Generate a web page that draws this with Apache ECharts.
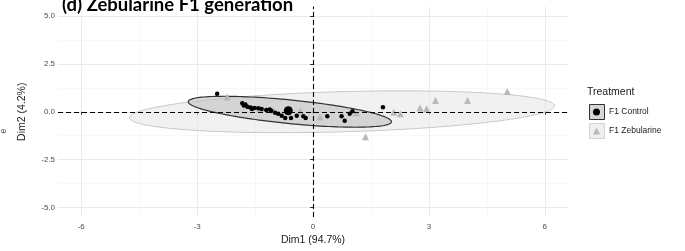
<!DOCTYPE html>
<html>
<head>
<meta charset="utf-8">
<script src="https://cdn.jsdelivr.net/npm/echarts@6/dist/echarts.min.js"></script>
<style>
  html, body { margin: 0; padding: 0; background: #fff; }
  #chart { width: 685px; height: 251px; }
</style>
</head>
<body>
<div id="chart"></div>
<script>
const xTicks = [-6, -3, 0, 3, 6]
const xMinor = [-4.5, -1.5, 1.5, 4.5]
const yTicks = [-5, -2.5, 0, 2.5, 5]
const yMinor = [-3.75, -1.25, 1.25, 3.75]

const controlPoints = [
  [-2.48, 0.94], [-1.83, 0.44], [-1.79, 0.33], [-1.75, 0.38], [-1.70, 0.26],
  [-1.62, 0.22], [-1.58, 0.15], [-1.52, 0.20], [-1.42, 0.18], [-1.33, 0.14],
  [-1.21, 0.09], [-1.12, 0.12], [-1.08, 0.05], [-0.98, -0.05], [-0.90, -0.10],
  [-0.81, -0.21], [-0.72, -0.33], [-0.57, -0.33], [-0.42, -0.21], [-0.25, -0.24],
  [-0.19, -0.33], [0.37, -0.23], [0.74, -0.24], [0.82, -0.47], [0.95, -0.10],
  [1.02, 0.03], [1.81, 0.24]
]
const controlMean = [[-0.64, 0.05]]
const zebularinePoints = [
  [-2.22, 0.77], [-1.36, 0.16], [-1.02, 0.07], [-0.33, 0.05], [0.18, -0.28],
  [1.12, -0.05], [1.36, -1.30], [2.09, -0.02], [2.26, -0.10], [2.77, 0.19],
  [2.94, 0.16], [3.17, 0.59], [4.00, 0.59], [5.03, 1.06]
]
// ellipse: centre x, centre y, half-axis a (x, y), half-axis b (x, y)
const controlEllipse = [-0.6, 0, 2.63, -0.52, 0, 0.62]
const zebularineEllipse = [0.75, 0, 5.5, 0.31, 0, 1.05]

const axisFont = 'Liberation Sans'

function ellipseSeries (name, params, fill, stroke, lw, z) {
  return {
    type: 'custom',
    name,
    z,
    silent: true,
    data: [params],
    encode: { x: 0, y: 1 },
    renderItem: (p, api) => {
      const [cx, cy, ax, ay, bx, by] = params
      const pts = []
      for (let i = 0; i < 144; i++) {
        const t = i / 144 * Math.PI * 2
        pts.push(api.coord([
          cx + ax * Math.cos(t) + bx * Math.sin(t),
          cy + ay * Math.cos(t) + by * Math.sin(t)
        ]))
      }
      return {
        type: 'polygon',
        shape: { points: pts },
        style: { fill, stroke, lineWidth: lw }
      }
    }
  }
}

const chart = echarts.init(document.getElementById('chart'))
chart.setOption({
  animation: false,
  grid: { left: 58, right: 117, top: 6.5, bottom: 32 },
  xAxis: [
    {
      type: 'value',
      min: -6.6,
      max: 6.6,
      axisLine: { show: false },
      axisTick: { show: true, length: 3, customValues: xTicks, lineStyle: { color: '#333' } },
      axisLabel: { customValues: xTicks, color: '#4d4d4d', fontSize: 8, margin: 6, fontFamily: axisFont },
      splitLine: { show: true, lineStyle: { color: '#e6e6e6', width: 0.8 } },
      name: 'Dim1 (94.7%)',
      nameLocation: 'middle',
      nameGap: 18,
      nameMoveOverlap: false,
      nameTextStyle: { fontSize: 10.5, color: '#1a1a1a', fontFamily: axisFont }
    },
    {
      type: 'value',
      min: -6.6,
      max: 6.6,
      axisLine: { show: false },
      axisTick: { show: false, customValues: xMinor },
      axisLabel: { show: false },
      splitLine: { show: true, lineStyle: { color: '#f3f3f3', width: 0.6 } }
    }
  ],
  yAxis: [
    {
      type: 'value',
      min: -5.5,
      max: 5.5,
      axisLine: { show: false },
      axisTick: { show: true, length: 3, customValues: yTicks, lineStyle: { color: '#333' } },
      axisLabel: {
        customValues: yTicks,
        color: '#4d4d4d',
        fontSize: 8,
        margin: 3,
        fontFamily: axisFont,
        formatter: v => v.toFixed(1)
      },
      splitLine: { show: true, lineStyle: { color: '#e6e6e6', width: 0.8 } },
      name: 'Dim2 (4.2%)',
      nameLocation: 'middle',
      nameGap: 30,
      nameMoveOverlap: false,
      nameTextStyle: { fontSize: 10.5, color: '#1a1a1a', fontFamily: axisFont }
    },
    {
      type: 'value',
      min: -5.5,
      max: 5.5,
      axisLine: { show: false },
      axisTick: { show: false, customValues: yMinor },
      axisLabel: { show: false },
      splitLine: { show: true, lineStyle: { color: '#f3f3f3', width: 0.6 } }
    }
  ],
  legend: {
    data: [
      { name: 'F1 Control', icon: 'circle' },
      { name: 'F1 Zebularine', icon: 'triangle' }
    ],
    orient: 'vertical',
    left: 593,
    top: 107,
    padding: 0,
    itemWidth: 7,
    itemHeight: 7,
    itemGap: 9,
    selectedMode: false,
    textStyle: { fontSize: 8.5, color: '#1a1a1a', fontFamily: axisFont, lineHeight: 10, padding: [0, 0, 0, 4] }
  },
  graphic: [
    {
      type: 'text', x: 62, y: 5, z: 100,
      style: { text: '(d) Zebularine F1 generation', fill: '#000', fontSize: 18.5, fontWeight: 'bold', fontFamily: 'Lato', verticalAlign: 'middle' }
    },
    {
      type: 'text', x: 587, y: 92,
      style: { text: 'Treatment', fill: '#1a1a1a', fontSize: 10.5, fontFamily: axisFont, verticalAlign: 'middle' }
    },
    {
      type: 'rect', shape: { x: 589.5, y: 104.5, width: 15, height: 15 }, z: -1,
      style: { fill: '#d6d6d6', stroke: '#333', lineWidth: 1 }
    },
    {
      type: 'rect', shape: { x: 589.5, y: 123.5, width: 15, height: 15 }, z: -1,
      style: { fill: '#efefef', stroke: '#d4d4d4', lineWidth: 1 }
    },
    {
      type: 'text', x: 4, y: 131, rotation: Math.PI / 2,
      style: { text: 'e', fill: '#555', fontSize: 9, fontFamily: axisFont, align: 'center', verticalAlign: 'middle' }
    }
  ],
  series: [
    ellipseSeries('F1 Zebularine ellipse', zebularineEllipse, 'rgba(232,232,232,0.6)', '#c8c8c8', 1, 1),
    ellipseSeries('F1 Control ellipse', controlEllipse, 'rgba(190,190,190,0.55)', '#333', 1.2, 2),
    {
      type: 'line',
      name: 'ref lines',
      data: [],
      z: 3,
      markLine: {
        silent: true,
        symbol: 'none',
        label: { show: false },
        lineStyle: { type: [5, 3], color: '#000', width: 1.1 },
        data: [{ xAxis: 0 }, { yAxis: 0 }]
      }
    },
    {
      type: 'scatter',
      name: 'F1 Zebularine',
      symbol: 'triangle',
      symbolSize: 7,
      z: 4,
      itemStyle: { color: '#b8b8b8', opacity: 1 },
      data: zebularinePoints
    },
    {
      type: 'scatter',
      name: 'F1 Control',
      symbol: 'circle',
      symbolSize: 4.5,
      z: 5,
      itemStyle: { color: '#000', opacity: 1 },
      data: controlPoints
    },
    {
      type: 'scatter',
      name: 'F1 Control mean',
      symbol: 'circle',
      symbolSize: 9,
      z: 5,
      itemStyle: { color: '#000', opacity: 1 },
      data: controlMean
    }
  ]
})
</script>
</body>
</html>
